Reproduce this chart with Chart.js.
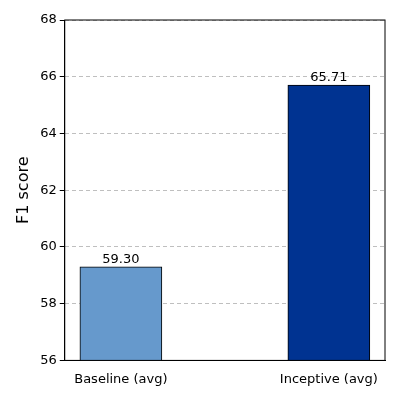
<!DOCTYPE html>
<html><head>
<script src="https://cdn.jsdelivr.net/npm/chart.js@4"></script>
<style>body{margin:0;background:#fff}#w{width:400px;height:400px}</style>
</head><body><div id="w"><canvas id="c"></canvas></div>
<script>
const categories = ["Baseline (avg)", "Inceptive (avg)"];
const values = [59.30, 65.71];
const colors = ["#6699cc", "#003391"];
const yTicks = [56, 58, 60, 62, 64, 66, 68];

const valueLabels = {
  id: 'valueLabels',
  afterDatasetsDraw(chart) {
    const ctx = chart.ctx;
    const meta = chart.getDatasetMeta(0);
    ctx.save();
    ctx.font = '13px "DejaVu Sans"';
    ctx.fillStyle = '#000';
    ctx.textAlign = 'center';
    ctx.textBaseline = 'bottom';
    meta.data.forEach((el, i) => ctx.fillText(values[i].toFixed(2), el.x, el.y - 1));
    ctx.restore();
  }
};
const frame = {
  id: 'frame',
  afterDraw(chart) {
    const a = chart.chartArea, ctx = chart.ctx;
    ctx.save(); ctx.strokeStyle = '#000'; ctx.lineWidth = 1;
    ctx.strokeRect(a.left, a.top, a.right - a.left, a.bottom - a.top);
    ctx.restore();
  }
};

new Chart(document.getElementById('c'), {
  type: 'bar',
  data: {
    datasets: [{
      data: values.map((v, i) => ({x: i, y: v})),
      backgroundColor: colors,
      borderColor: '#000',
      borderWidth: 1,
      barThickness: 82
    }]
  },
  options: {
    responsive: true, maintainAspectRatio: false, animation: false,
    layout: {padding: {top: 20, right: 15, bottom: 10, left: 10}},
    plugins: {legend: {display: false}, tooltip: {enabled: false}},
    scales: {
      x: {
        type: 'linear', min: -0.27, max: 1.27, offset: false,
        afterBuildTicks: s => { s.ticks = categories.map((c, i) => ({value: i})); },
        ticks: {callback: v => categories[v], color: '#000', font: {family: 'DejaVu Sans', size: 13}, maxRotation: 0},
        grid: {display: false, drawTicks: true},
        border: {color: '#000'}
      },
      y: {
        min: 56, max: 68,
        afterBuildTicks: s => { s.ticks = yTicks.map(v => ({value: v})); },
        ticks: {color: '#000', font: {family: 'DejaVu Sans', size: 13}},
        title: {display: true, text: 'F1 score', color: '#000', font: {family: 'DejaVu Sans', size: 16}},
        grid: {color: 'rgba(0,0,0,0.25)', tickColor: '#000', tickLength: 5, drawOnChartArea: true},
        border: {color: '#000', dash: [4, 3]}
      }
    }
  },
  plugins: [valueLabels, frame]
});
</script></body></html>
